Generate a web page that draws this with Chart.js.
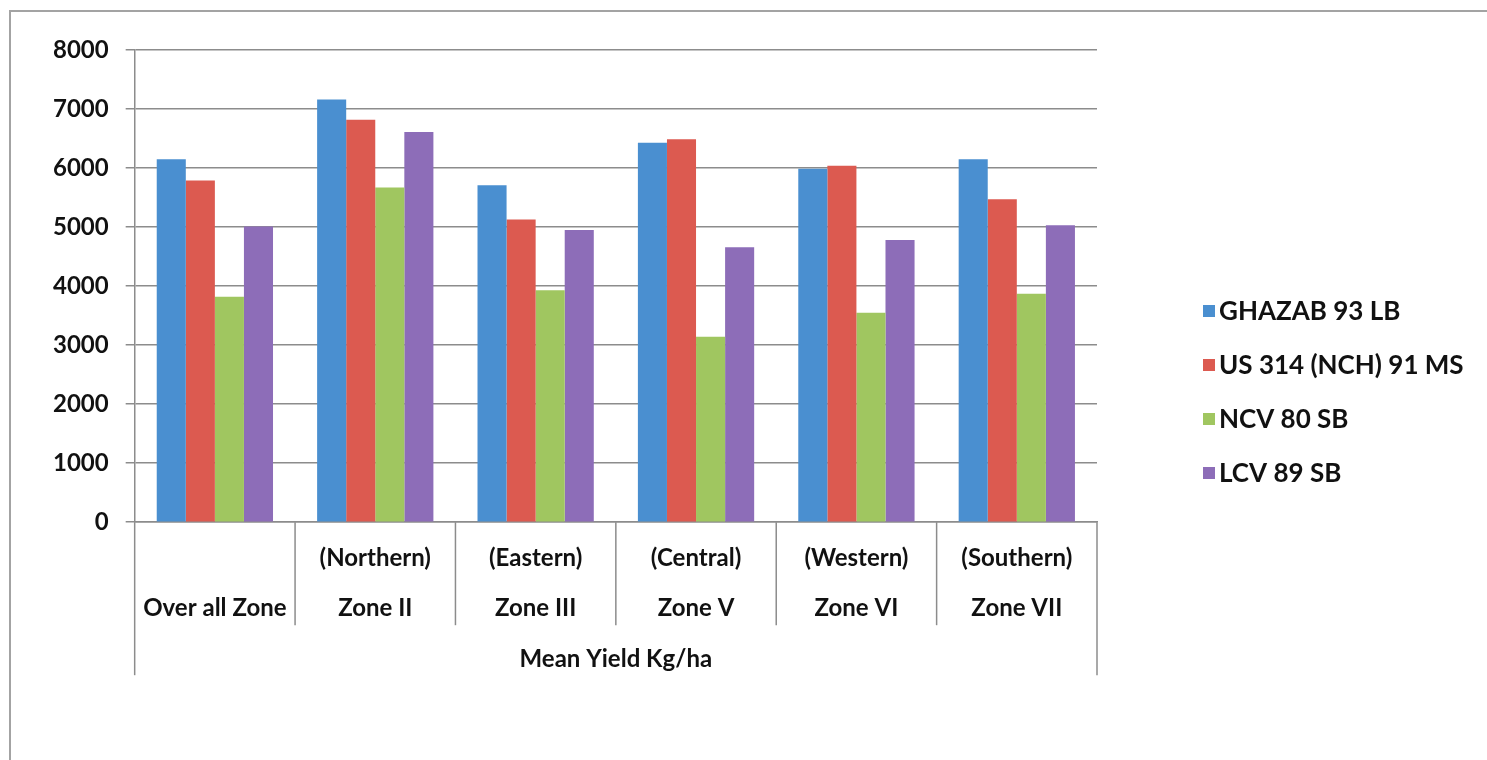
<!DOCTYPE html>
<html>
<head>
<meta charset="utf-8">
<script src="https://cdn.jsdelivr.net/npm/chart.js@4/dist/chart.umd.min.js"></script>
<style>
  html, body { margin: 0; padding: 0; background: #fff; }
  #wrap { position: relative; width: 1487px; height: 760px; overflow: hidden; }
  #frame { position: absolute; left: 9px; top: 10px; width: 1600px; height: 900px;
           border: 2px solid #a3a3a3; box-sizing: border-box; pointer-events: none; }
  canvas { position: absolute; left: 0; top: 0; }
</style>
</head>
<body>
<div id="wrap">
  <canvas id="yieldChart" width="1487" height="760"></canvas>
  <div id="frame"></div>
</div>
<script>
// Zones (two label lines each) and mean yield per variety, Kg/ha
const zones = [
    ['', 'Over all Zone'],
    ['(Northern)', 'Zone II'],
    ['(Eastern)', 'Zone III'],
    ['(Central)', 'Zone V'],
    ['(Western)', 'Zone VI'],
    ['(Southern)', 'Zone VII']
];
const varieties = ['GHAZAB 93 LB', 'US 314 (NCH) 91 MS', 'NCV 80 SB', 'LCV 89 SB'];
const ghazab = [6150, 7160, 5710, 6430, 5990, 6150];
const us314 = [5790, 6820, 5130, 6490, 6040, 5470];
const ncv80 = [3820, 5670, 3930, 3140, 3550, 3870];
const lcv89 = [5010, 6610, 4950, 4660, 4780, 5030];
const yTicks = [0, 1000, 2000, 3000, 4000, 5000, 6000, 7000, 8000];
const groupTitle = 'Mean Yield Kg/ha';

const colors = ['#4a8fd0', '#dc5a50', '#a0c660', '#8d6db8'];
const gridColor = '#8c8c8c';

// separators between the zones, the outer two run down past the group title
const groupLines = {
    id: 'groupLines',
    afterDraw(chart) {
        const x = chart.scales.x;
        const n = chart.data.labels.length;
        const c = chart.ctx;
        c.save();
        c.strokeStyle = gridColor;
        c.lineWidth = 1.5;
        for (let i = 0; i <= n; i++) {
            let px;
            if (i === 0) px = x.left;
            else if (i === n) px = x.right;
            else px = (x.getPixelForTick(i - 1) + x.getPixelForTick(i)) / 2;
            const len = (i === 0 || i === n) ? 153 : 103;
            c.beginPath();
            c.moveTo(px, x.top);
            c.lineTo(px, x.top + len);
            c.stroke();
        }
        c.restore();
    }
};

// legend on the right, drawn from the datasets
const sideLegend = {
    id: 'sideLegend',
    afterDraw(chart) {
        const c = chart.ctx;
        c.save();
        c.font = 'bold 26px Lato';
        c.textBaseline = 'middle';
        chart.data.datasets.forEach((ds, i) => {
            const y = 311 + i * 54;
            c.fillStyle = ds.backgroundColor;
            c.fillRect(1203, y - 6, 12, 12);
            c.fillStyle = '#111';
            c.fillText(ds.label, 1219, y + 1);
        });
        c.restore();
    }
};

const series = [ghazab, us314, ncv80, lcv89];

new Chart(document.getElementById('yieldChart'), {
    type: 'bar',
    data: {
        labels: zones,
        datasets: series.map((vals, i) => ({
            label: varieties[i],
            data: vals,
            backgroundColor: colors[i],
            borderWidth: 0,
            categoryPercentage: 0.725,
            barPercentage: 1.0
        }))
    },
    options: {
        responsive: false,
        animation: false,
        layout: { padding: { left: 36, top: 50, right: 390, bottom: 86 } },
        plugins: {
            legend: { display: false },
            tooltip: { enabled: false }
        },
        scales: {
            x: {
                grid: {
                    offset: true,
                    drawOnChartArea: false,
                    drawTicks: false
                },
                border: { display: true, color: gridColor, width: 1.5 },
                ticks: {
                    color: '#111',
                    font: { family: 'Lato', weight: 'bold', size: 24, lineHeight: 50 / 24 },
                    padding: 11,
                    maxRotation: 0,
                    autoSkip: false
                },
                title: {
                    display: true,
                    text: groupTitle,
                    color: '#111',
                    font: { family: 'Lato', weight: 'bold', size: 24, lineHeight: 1.2 },
                    padding: { top: 1, bottom: 0 }
                }
            },
            y: {
                min: 0,
                max: 8000,
                afterBuildTicks(axis) {
                    axis.ticks = yTicks.map(v => ({ value: v }));
                },
                grid: {
                    color: gridColor,
                    lineWidth: 1.5,
                    drawTicks: true,
                    tickLength: 9
                },
                border: { display: true, color: gridColor, width: 1.5 },
                ticks: {
                    color: '#111',
                    font: { family: 'Lato', weight: 'bold', size: 24 },
                    padding: 17,
                    callback: v => String(v)
                }
            }
        }
    },
    plugins: [groupLines, sideLegend]
});
</script>
</body>
</html>
